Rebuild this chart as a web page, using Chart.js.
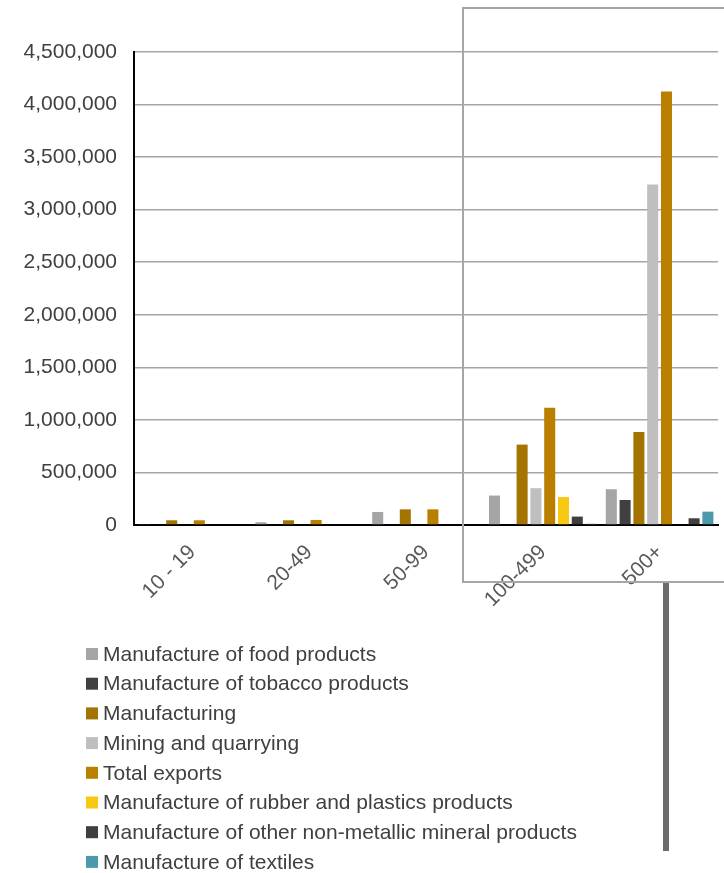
<!DOCTYPE html>
<html>
<head>
<meta charset="utf-8">
<script src="https://cdn.jsdelivr.net/npm/chart.js@4.4.1/dist/chart.umd.min.js"></script>
<style>
html,body{margin:0;padding:0;background:#fff;}
canvas{display:block;}
</style>
</head>
<body>
<canvas id="c" width="724" height="873"></canvas>
<script>
const categories = ["10 - 19", "20-49", "50-99", "100-499", "500+"];
const seriesNames = [
  "Manufacture of food products",
  "Manufacture of tobacco products",
  "Manufacturing",
  "Mining and quarrying",
  "Total exports",
  "Manufacture of rubber and plastics products",
  "Manufacture of other non-metallic mineral products",
  "Manufacture of textiles"
];
const foodProducts     = [6000, 26000, 124000, 280000, 340000];
const tobaccoProducts  = [0, 0, 0, 0, 238000];
const manufacturing    = [45000, 45000, 149000, 765000, 884000];
const mining           = [0, 0, 0, 350000, 3240000];
const totalExports     = [45000, 48000, 149000, 1115000, 4125000];
const rubberPlastics   = [0, 0, 0, 266000, 0];
const nonMetallic      = [0, 0, 0, 80000, 64000];
const textiles         = [0, 0, 0, 12000, 127000];
const yTicks = [0, 500000, 1000000, 1500000, 2000000, 2500000, 3000000, 3500000, 4000000, 4500000];

const colors = ["#a5a5a5", "#404040", "#a37400", "#bfbfbf", "#b98000", "#f7c913", "#3f3f3f", "#4a9aab"];
const values = [foodProducts, tobaccoProducts, manufacturing, mining, totalExports, rubberPlastics, nonMetallic, textiles];

const FONT = "'Liberation Sans', Arial, sans-serif";

const decorPlugin = {
  id: 'decor',
  afterDraw(chart) {
    const ctx = chart.ctx;
    ctx.save();
    // highlight box
    ctx.strokeStyle = '#a6a6a6';
    ctx.lineWidth = 2;
    ctx.beginPath();
    ctx.moveTo(726, 8);
    ctx.lineTo(463, 8);
    ctx.lineTo(463, 582);
    ctx.lineTo(726, 582);
    ctx.stroke();
    // vertical bar
    ctx.fillStyle = '#6b6b6b';
    ctx.fillRect(663, 583, 6, 268);
    // legend
    ctx.font = '21px ' + FONT;
    ctx.textBaseline = 'middle';
    ctx.textAlign = 'left';
    chart.data.datasets.forEach((ds, i) => {
      const cy = 654 + i * 29.7;
      ctx.fillStyle = ds.backgroundColor;
      ctx.fillRect(86, cy - 6, 12, 12);
      ctx.fillStyle = '#404040';
      ctx.fillText(ds.label, 103, cy + 1);
    });
    ctx.restore();
  }
};

new Chart(document.getElementById('c'), {
  type: 'bar',
  data: {
    labels: categories,
    datasets: seriesNames.map((n, i) => ({
      label: n,
      data: values[i],
      backgroundColor: colors[i],
      borderWidth: 0,
      categoryPercentage: 0.945,
      barPercentage: 0.8
    }))
  },
  options: {
    responsive: false,
    animation: false,
    devicePixelRatio: 1,
    layout: { padding: { top: 52, right: 6, left: 0, bottom: 0 } },
    plugins: { legend: { display: false }, tooltip: { enabled: false } },
    scales: {
      x: {
        grid: { display: false, drawTicks: false },
        border: { display: true, color: '#000', width: 2 },
        ticks: {
          color: '#595959',
          font: { family: FONT, size: 21 },
          minRotation: 45,
          maxRotation: 45,
          padding: 15
        },
        afterFit(scale) { scale.height = 348; }
      },
      y: {
        min: 0,
        max: 4500000,
        afterBuildTicks(scale) { scale.ticks = yTicks.map(v => ({ value: v })); },
        grid: { color: '#a6a6a6', lineWidth: 1.5, drawTicks: false },
        border: { display: true, color: '#000', width: 2 },
        ticks: {
          color: '#404040',
          font: { family: FONT, size: 21 },
          padding: 17,
          callback: v => Number(v).toLocaleString('en-US')
        },
        afterFit(scale) { scale.width = 134; }
      }
    }
  },
  plugins: [decorPlugin]
});
</script>
</body>
</html>
